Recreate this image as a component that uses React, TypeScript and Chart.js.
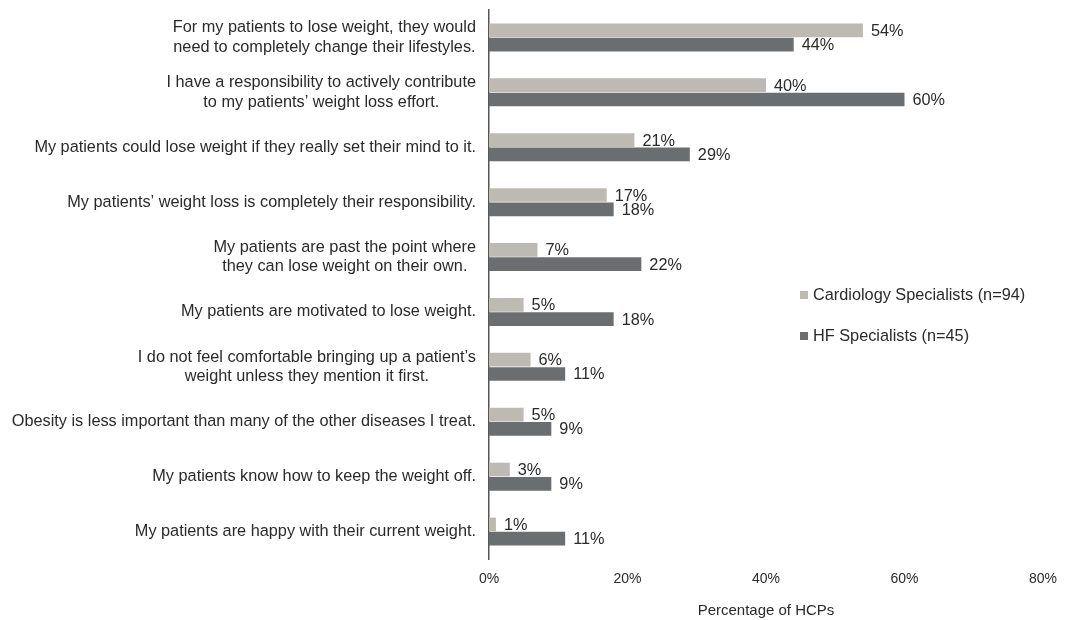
import React, { useEffect, useRef } from "react";
import { Chart, registerables } from "chart.js";

Chart.register(...registerables);

const categories: string[][] = [
  ["For my patients to lose weight, they would", "need to completely change their lifestyles."],
  ["I have a responsibility to actively contribute", "to my patients\u2019 weight loss effort."],
  ["My patients could lose weight if they really set their mind to it."],
  ["My patients\u2019 weight loss is completely their responsibility."],
  ["My patients are past the point where", "they can lose weight on their own."],
  ["My patients are motivated to lose weight."],
  ["I do not feel comfortable bringing up a patient\u2019s", "weight unless they mention it first."],
  ["Obesity is less important than many of the other diseases I treat."],
  ["My patients know how to keep the weight off."],
  ["My patients are happy with their current weight."],
];
const seriesNames = ["Cardiology Specialists (n=94)", "HF Specialists (n=45)"];
const cardiology = [54, 40, 21, 17, 7, 5, 6, 5, 3, 1];
const hf = [44, 60, 29, 18, 22, 18, 11, 9, 9, 11];
const xMin = 0;
const xMax = 80;
const xStep = 20;
const xTitle = "Percentage of HCPs";
const barColors = ["#bdbab4", "#6b6e71"];

const FONT = '"Liberation Sans", Arial, Helvetica, sans-serif';
const TEXT = "#2a2a2a";

const yLabelPlugin = {
  id: "yLabelPlugin",
  afterDraw(chart: any) {
    const ctx = chart.ctx;
    const yScale = chart.scales.y;
    const right = chart.chartArea.left - 13;
    const lineH = 19.5;
    ctx.save();
    ctx.font = `16.3px ${FONT}`;
    ctx.fillStyle = TEXT;
    ctx.textBaseline = "middle";
    ctx.textAlign = "center";
    categories.forEach((lines, i) => {
      const y = yScale.getPixelForValue(i);
      const w = Math.max(...lines.map((l) => ctx.measureText(l).width));
      const cx = right - w / 2;
      const y0 = y - ((lines.length - 1) * lineH) / 2;
      lines.forEach((l, k) => ctx.fillText(l, cx, y0 + k * lineH));
    });
    ctx.restore();
  },
};

const valueLabelPlugin = {
  id: "valueLabelPlugin",
  afterDatasetsDraw(chart: any) {
    const ctx = chart.ctx;
    ctx.save();
    ctx.font = `16.3px ${FONT}`;
    ctx.fillStyle = TEXT;
    ctx.textBaseline = "middle";
    ctx.textAlign = "left";
    chart.data.datasets.forEach((ds: any, di: number) => {
      const meta = chart.getDatasetMeta(di);
      meta.data.forEach((bar: any, i: number) => {
        ctx.fillText(`${ds.data[i]}%`, bar.x + 8, bar.y + 1);
      });
    });
    ctx.restore();
  },
};

export default function App() {
  const ref = useRef<HTMLCanvasElement | null>(null);

  useEffect(() => {
    if (!ref.current) return;
    const chart = new Chart(ref.current, {
      type: "bar",
      data: {
        labels: categories.map((c) => c.join(" ")),
        datasets: [
          {
            label: seriesNames[0],
            data: cardiology,
            backgroundColor: barColors[0],
            categoryPercentage: 0.52,
            barPercentage: 0.96,
          },
          {
            label: seriesNames[1],
            data: hf,
            backgroundColor: barColors[1],
            categoryPercentage: 0.52,
            barPercentage: 0.96,
          },
        ],
      },
      options: {
        indexAxis: "y",
        responsive: false,
        animation: false,
        devicePixelRatio: 1,
        layout: { padding: { top: 10, right: 19, bottom: 0, left: 0 } },
        plugins: {
          legend: { display: false },
          tooltip: { enabled: false },
        },
        scales: {
          x: {
            type: "linear",
            min: xMin,
            max: xMax,
            ticks: {
              stepSize: xStep,
              callback: (v: any) => `${v}%`,
              font: { family: FONT, size: 14 },
              color: TEXT,
              padding: 12,
              maxRotation: 0,
            },
            grid: { display: false, drawTicks: false },
            border: { display: false },
            title: {
              display: true,
              text: xTitle,
              font: { family: FONT, size: 15 },
              color: TEXT,
              padding: { top: 0, bottom: 0 },
            },
            afterFit: (s: any) => {
              s.height = 61;
            },
          },
          y: {
            type: "category",
            ticks: { display: false },
            grid: { display: false, drawTicks: false },
            border: { display: true, color: "#555555", width: 1.5 },
            afterFit: (s: any) => {
              s.width = 489;
            },
          },
        },
      },
      plugins: [valueLabelPlugin, yLabelPlugin],
    });
    return () => chart.destroy();
  }, []);

  const legendItem = (i: number, top: number) => (
    <div
      key={i}
      style={{
        position: "absolute",
        left: 800,
        top,
        display: "flex",
        alignItems: "center",
        font: `16.3px ${FONT}`,
        color: TEXT,
        whiteSpace: "nowrap",
      }}
    >
      <span
        style={{
          display: "inline-block",
          width: 8,
          height: 8,
          background: barColors[i],
          marginRight: 5,
        }}
      />
      {seriesNames[i]}
    </div>
  );

  return (
    <div style={{ position: "absolute", left: 0, top: 0, width: 1069, height: 620, background: "#fff" }}>
      <canvas ref={ref} width={1069} height={620} style={{ display: "block" }} />
      {legendItem(0, 285)}
      {legendItem(1, 326)}
    </div>
  );
}
